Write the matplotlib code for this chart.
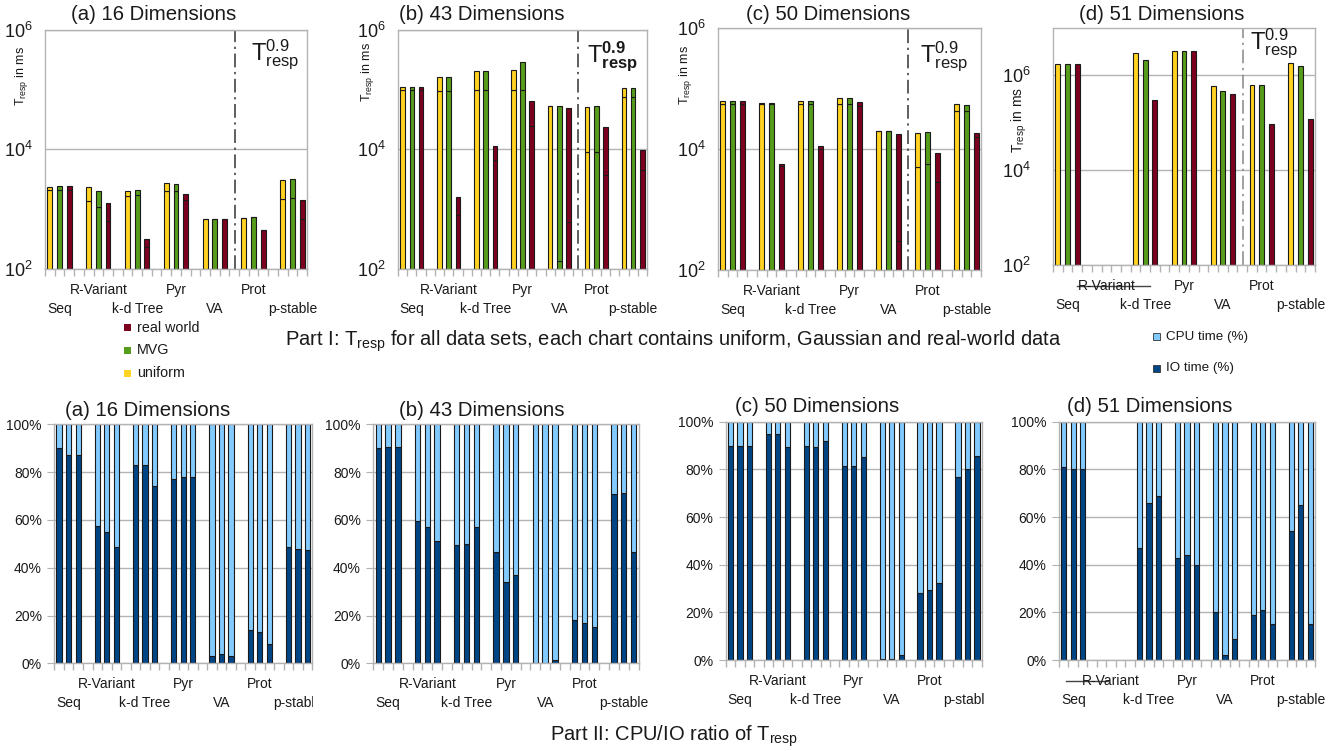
import numpy as np
import matplotlib
matplotlib.use('Agg')
import matplotlib.pyplot as plt
from matplotlib.patches import Rectangle
from matplotlib.transforms import offset_copy, Bbox
from matplotlib.ticker import NullLocator

plt.rcParams['font.family'] = ['Liberation Sans', 'DejaVu Sans']
plt.rcParams['mathtext.fontset'] = 'custom'
plt.rcParams['mathtext.rm'] = 'Liberation Sans'
plt.rcParams['mathtext.bf'] = 'Liberation Sans:bold'
plt.rcParams['mathtext.it'] = 'Liberation Sans:italic'

nan = np.nan

# ---------------- data ----------------
methods = ['Seq', 'R-Variant', 'k-d Tree', 'Pyr', 'VA', 'Prot', 'p-stable']
series = ['uniform', 'MVG', 'real world']
titles = ['(a) 16 Dimensions', '(b) 43 Dimensions', '(c) 50 Dimensions', '(d) 51 Dimensions']

# Part I: T_resp in ms (bar top) and inner split mark; rows = uniform, MVG, real world
t16_total = [[2350, 2330, 2000, 2690, 670, 706, 3020],
             [2390, 2000, 2050, 2650, 675, 733, 3140],
             [2390, 1270, 318, 1780, 675, 450, 1410]]
t16_split = [[2075, 1340, 1650, 2020, 670, 706, 1450],
             [2060, 1080, 1710, 2020, 675, 733, 1510],
             [2060, 620, 231, 1400, 675, 450, 670]]

t43_total = [[111000, 160000, 204000, 214000, 52800, 51400, 107000],
             [111000, 166000, 204000, 296000, 53200, 53200, 108000],
             [111000, 1570, 11600, 65800, 48400, 23800, 9580]]
t43_split = [[100500, 95300, 100500, 100500, 52800, 9080, 74800],
             [100500, 95300, 100500, 100500, 134, 9080, 76800],
             [100500, 790, 6520, 24200, 605, 3700, 4430]]

t50_total = [[62100, 57500, 62100, 68800, 19800, 18300, 54700],
             [62100, 57500, 62100, 68800, 19800, 19300, 52700],
             [62100, 5690, 11200, 59700, 17900, 8650, 18600]]
t50_split = [[56000, 54700, 56000, 54700, 19800, 5010, 42400],
             [56000, 54700, 56000, 54700, 19800, 5620, 42000],
             [56000, 5150, 9850, 51300, 299, 2800, 15900]]

t51_total = [[1.78e6, nan, 3.03e6, 3.24e6, 5.85e5, 6.14e5, 1.87e6],
             [1.78e6, nan, 2.09e6, 3.24e6, 4.75e5, 6.14e5, 1.57e6],
             [1.78e6, nan, 3.03e5, 3.24e6, 4.04e5, 9.6e4, 1.19e5]]

# Part II: IO time share (%) ; CPU = 100 - IO
io16 = [[90, 57.5, 83, 77, 3, 14, 48.5],
        [87, 55, 83, 78, 4, 13, 48],
        [87, 48.5, 74, 78, 3, 8, 47.5]]
io43 = [[90, 59.5, 49.5, 46.5, 0.2, 18, 71],
        [90.5, 57, 50, 34, 0.3, 17, 71.2],
        [90.5, 51, 57, 37, 1.5, 15, 46.5]]
io50 = [[90, 95, 90, 81.5, 0.5, 28, 77],
        [90, 95, 89.5, 81.5, 0.3, 29.5, 80],
        [90, 89.5, 92, 85, 2, 32.5, 85.5]]
io51 = [[81, nan, 47, 43, 20, 19, 54],
        [80, nan, 66, 44, 2, 21, 65],
        [80, nan, 69, 40, 9, 15, 15]]

# ---------------- style ----------------
SER_COLORS = ['#FFD320', '#579D1C', '#7E0021']
CPU_COLOR = '#83CAFF'
IO_COLOR = '#004586'
EDGE = '#1a1a1a'
GRID = '#b3b3b3'
TXT = '#1a1a1a'

W, H = 1338, 751
fig = plt.figure(figsize=(W / 100, H / 100), dpi=100)


def add_ax(l, t, r, b):
    return fig.add_axes([l / W, 1 - b / H, (r - l) / W, (b - t) / H])


def ftext(x, y, s, **kw):
    kw.setdefault('color', TXT)
    return fig.text(x / W, 1 - y / H, s, **kw)


def common_x(ax, xmax=26.5):
    ax.set_xlim(-0.5, xmax)
    ax.set_xticks(np.arange(-0.5, 27, 1.0))
    ax.set_xticklabels([])
    ax.tick_params(axis='x', length=5, color=GRID, width=1, direction='out')
    for sp in ax.spines.values():
        sp.set_color(GRID)
        sp.set_linewidth(1)
    ax.set_axisbelow(True)


def group_labels(ax, clip_x=None, strike=None):
    row1 = offset_copy(ax.get_xaxis_transform(), fig=fig, x=0, y=-21, units='dots')
    row2 = offset_copy(ax.get_xaxis_transform(), fig=fig, x=0, y=-40, units='dots')
    for g, m in enumerate(methods):
        tr = row1 if g % 2 == 1 else row2
        t = ax.text(4 * g + 1, 0, m, transform=tr, ha='center', va='center',
                    fontsize=10, color=TXT, clip_on=False)
        if clip_x is not None:
            t.set_clip_on(True)
            t.set_clip_box(Bbox([[0, 0], [clip_x, H]]))
    if strike is not None:
        ax.plot(strike, [0, 0], transform=row1, color='#444444', lw=1, clip_on=False)


def positions():
    return np.array([[4 * g + s for g in range(7)] for s in range(3)], dtype=float)


def draw_top(ax, totals, splits, ytop, yticks, vline_color, pad):
    ax.set_yscale('log')
    pos = positions()
    for s in range(3):
        tot = np.array(totals[s], dtype=float)
        ok = ~np.isnan(tot)
        if splits is None:
            ax.bar(pos[s][ok], tot[ok] - 100, bottom=100, width=0.5,
                   color=SER_COLORS[s], edgecolor=EDGE, linewidth=0.8)
        else:
            sp = np.array(splits[s], dtype=float)
            ax.bar(pos[s][ok], sp[ok] - 100, bottom=100, width=0.5,
                   color=SER_COLORS[s], edgecolor=EDGE, linewidth=0.8)
            ax.bar(pos[s][ok], tot[ok] - sp[ok], bottom=sp[ok], width=0.5,
                   color=SER_COLORS[s], edgecolor=EDGE, linewidth=0.8)
    ax.set_ylim(100, ytop)
    ax.set_yticks(yticks)
    ax.set_yticklabels([r'$10^{%d}$' % int(round(np.log10(v))) for v in yticks])
    ax.yaxis.set_minor_locator(NullLocator())
    ax.tick_params(axis='y', length=0, pad=pad, labelsize=13, labelcolor=TXT)
    ax.grid(axis='y', color=GRID, linewidth=1)
    common_x(ax)
    ax.axvline(19.05, color=vline_color, lw=1.1, linestyle=(0, (9, 3, 1.5, 3)))


def draw_bottom(ax, io, xmax=26.5):
    pos = positions()
    for s in range(3):
        v = np.array(io[s], dtype=float)
        ok = ~np.isnan(v)
        ax.bar(pos[s][ok], v[ok], width=0.55, color=IO_COLOR, edgecolor=EDGE, linewidth=0.8)
        ax.bar(pos[s][ok], 100 - v[ok], bottom=v[ok], width=0.55, color=CPU_COLOR,
               edgecolor=EDGE, linewidth=0.8)
    ax.set_ylim(0, 100)
    ax.set_yticks([0, 20, 40, 60, 80, 100])
    ax.set_yticklabels(['0%', '20%', '40%', '60%', '80%', '100%'])
    ax.tick_params(axis='y', length=5, color=GRID, pad=4, labelsize=10, labelcolor=TXT)
    ax.grid(axis='y', color=GRID, linewidth=1)
    common_x(ax, xmax)


# ---------------- Part I ----------------
top_rects = [(45, 30, 307, 268.7), (398, 30, 647, 268.7), (718, 28, 981, 269.7),
             (1053, 28, 1315, 265)]
top_data = [(t16_total, t16_split, 1e6, [1e2, 1e4, 1e6], '#333333', 9),
            (t43_total, t43_split, 1e6, [1e2, 1e4, 1e6], '#333333', 9),
            (t50_total, t50_split, 1e6, [1e2, 1e4, 1e6], '#333333', 9),
            (t51_total, None, 1e7, [1e2, 1e4, 1e6], '#888888', 16)]
top_axes = []
for rect, (tot, spl, ytop, yt, vc, pad) in zip(top_rects, top_data):
    ax = add_ax(*rect)
    draw_top(ax, tot, spl, ytop, yt, vc, pad)
    top_axes.append(ax)

group_labels(top_axes[0])
group_labels(top_axes[1])
group_labels(top_axes[2])
group_labels(top_axes[3], strike=[1.95, 9.5])

for x, s in zip([154, 482, 828, 1162], titles):
    ftext(x, 15, s, ha='center', va='center', fontsize=14.7)

ylab = r'T$_{\mathrm{resp}}$ in ms'
ftext(21, 76, ylab, rotation=90, ha='center', va='center', fontsize=9)
ftext(368, 72, ylab, rotation=90, ha='center', va='center', fontsize=9)
ftext(686, 75, ylab, rotation=90, ha='center', va='center', fontsize=9)
ftext(1019, 120, ylab, rotation=90, ha='center', va='center', fontsize=10)

tr_norm = r'$\mathrm{T}^{0.9}_{\mathrm{resp}}$'
tr_bold = r'$\mathrm{T}^{\mathbf{0.9}}_{\mathbf{resp}}$'
ftext(275, 55, tr_norm, ha='center', va='center', fontsize=17)
ftext(612, 57, tr_bold, ha='center', va='center', fontsize=17)
ftext(944, 57, tr_norm, ha='center', va='center', fontsize=17)
ftext(1274, 44, tr_norm, ha='center', va='center', fontsize=17)

# Part I legend
for y, name, c in zip([327.7, 350, 373.3], ['real world', 'MVG', 'uniform'],
                      [SER_COLORS[2], SER_COLORS[1], SER_COLORS[0]]):
    fig.add_artist(Rectangle((124 / W, 1 - (y + 3.5) / H), 7 / W, 7 / H,
                             transform=fig.transFigure, facecolor=c, edgecolor='none'))
    ftext(137, y, name, ha='left', va='center', fontsize=10.3)

ftext(673, 341, r'Part I: T$_{\mathrm{resp}}$ for all data sets, each chart contains uniform, '
      r'Gaussian and real-world data', ha='center', va='center', fontsize=14.5)

# Part II legend
for y, name, c in zip([336.7, 368.3], ['CPU time (%)', 'IO time (%)'], [CPU_COLOR, IO_COLOR]):
    fig.add_artist(Rectangle((1153 / W, 1 - (y + 3.5) / H), 7 / W, 7 / H,
                             transform=fig.transFigure, facecolor=c, edgecolor='#333333',
                             linewidth=0.6))
    ftext(1166, y, name, ha='left', va='center', fontsize=9.6)

# ---------------- Part II ----------------
bot_rects = [(54.3, 424.3, 312.3, 663.3), (373.3, 424.3, 638.5, 663.3),
             (725.7, 421.7, 981.7, 660), (1059, 421.7, 1315, 660)]
bot_data = [(io16, 26.0), (io43, 26.5), (io50, 26.5), (io51, 26.5)]
bot_axes = []
for rect, (io, xm) in zip(bot_rects, bot_data):
    ax = add_ax(*rect)
    draw_bottom(ax, io, xm)
    bot_axes.append(ax)

group_labels(bot_axes[0], clip_x=312.5)
group_labels(bot_axes[1])
group_labels(bot_axes[2], clip_x=984.5)
group_labels(bot_axes[3], strike=[0.24, 4.67])

for (x, y), s in zip([(148, 410), (482, 410.7), (817, 407), (1150, 407)], titles):
    ftext(x, y, s, ha='center', va='center', fontsize=14.7)

ftext(674, 736, r'Part II: CPU/IO ratio of T$_{\mathrm{resp}}$', ha='center', va='center',
      fontsize=14.5)

fig.savefig('out.png', dpi=100)
